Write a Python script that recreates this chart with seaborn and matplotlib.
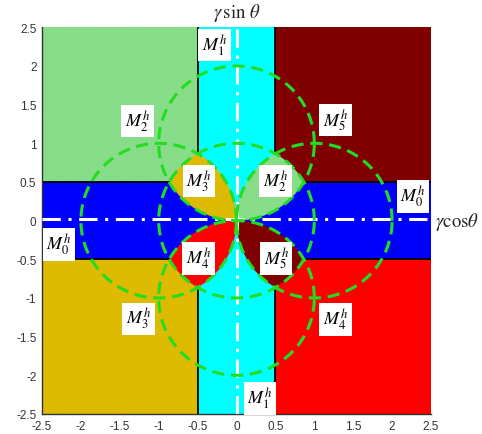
import numpy as np
import matplotlib
matplotlib.use("Agg")
import matplotlib.pyplot as plt
from matplotlib.colors import ListedColormap
import seaborn as sns

# ---------------- data ----------------
region_names = ["M0", "M1", "M2", "M3", "M4", "M5"]
region_colors = ["#0000ff", "#00ffff", "#88dd88", "#ddbb00", "#ff0000", "#800000"]

band_half = 0.5            # half-width of the M0 / M1 bands
axis_lim = 2.5
circle_cx = [0.0, 0.0, 0.0, 1.0, -1.0]
circle_cy = [0.0, 1.0, -1.0, 0.0, 0.0]
circle_r = [1.0, 1.0, 1.0, 1.0, 1.0]

label_idx = [1, 2, 5, 0, 3, 2, 4, 5, 0, 3, 4, 1]
label_x = [-0.28, -1.27, 1.27, 2.27, -0.48, 0.50, -0.49, 0.51, -2.28, -1.26, 1.27, 0.30]
label_y = [2.27, 1.29, 1.30, 0.31, 0.51, 0.51, -0.49, -0.49, -0.31, -1.27, -1.28, -2.30]

ticks = [-2.5, -2, -1.5, -1, -0.5, 0, 0.5, 1, 1.5, 2, 2.5]
tick_labels = ["-2.5", "-2", "-1.5", "-1", "-0.5", "0", "0.5", "1", "1.5", "2", "2.5"]

# ---------------- style ----------------
sns.set_theme(style="white")
plt.rcParams["font.family"] = ["Liberation Sans", "DejaVu Sans"]
plt.rcParams["mathtext.fontset"] = "stix"

fig = plt.figure(figsize=(4.82, 4.35), dpi=100)
ax = fig.add_axes([42 / 482, 1 - 415 / 435, (431 - 42) / 482, (415 - 28.3) / 435])

# ---------------- region map ----------------
n = 1600
g = np.linspace(-axis_lim, axis_lim, n)
X, Y = np.meshgrid(g, g)
h = band_half
outer = np.where(np.abs(Y) <= h, 0,
                 np.where(np.abs(X) <= h, 1,
                          np.select([(X < 0) & (Y > 0), (X > 0) & (Y > 0), (X < 0) & (Y < 0)],
                                    [2, 5, 3], 4)))

def inside(i):
    return (X - circle_cx[i]) ** 2 + (Y - circle_cy[i]) ** 2 < circle_r[i] ** 2

inU, inT, inB, inR, inL = (inside(i) for i in range(5))
inner = np.select([inT & inL, inT & inR, inB & inL, inB & inR, inT | inB, inL | inR],
                  [3, 2, 4, 5, 1, 0], outer)
M = np.where(inU, inner, outer)

ax.imshow(M, origin="lower", extent=[-axis_lim, axis_lim, -axis_lim, axis_lim],
          cmap=ListedColormap(region_colors), vmin=-0.5, vmax=5.5,
          interpolation="antialiased", aspect="auto", zorder=0)

# black band borders (outside the unit circle)
k = np.sqrt(circle_r[0] ** 2 - h ** 2)
for s in (-1, 1):
    ax.plot([-axis_lim, -k], [s * h, s * h], color="black", lw=1.3, zorder=2)
    ax.plot([k, axis_lim], [s * h, s * h], color="black", lw=1.3, zorder=2)
    ax.plot([s * h, s * h], [k, axis_lim], color="black", lw=1.3, zorder=2)
    ax.plot([s * h, s * h], [-axis_lim, -k], color="black", lw=1.3, zorder=2)

# white dash-dot axes
ax.plot([-axis_lim, axis_lim], [0.02, 0.02], color="white", lw=2.2,
        linestyle=(0, (6, 2.5, 1, 2.5)), zorder=3)
ax.plot([0, 0], [-axis_lim, axis_lim], color="white", lw=2.2,
        linestyle=(0, (6, 2.5, 1, 2.5)), zorder=3)

# green dashed circles
t = np.linspace(0, 2 * np.pi, 600)
for cx, cy, r in zip(circle_cx, circle_cy, circle_r):
    sns.lineplot(x=cx + r * np.cos(t), y=cy + r * np.sin(t), sort=False, estimator=None,
                 ax=ax, color="#22dd22", lw=2.2, linestyle=(0, (4, 2.2)), zorder=4)

# labels
for i, x, y in zip(label_idx, label_x, label_y):
    ax.text(x, y, r"$M_{%d}^{h}$" % i, ha="center", va="center", fontsize=13,
            color="black", zorder=6,
            bbox=dict(facecolor="white", edgecolor="none", boxstyle="square,pad=0.2"))

ax.text(0, axis_lim + 0.2, r"$\gamma\,\sin\,\theta$", ha="center", va="center",
        fontsize=13.5, clip_on=False)
ax.text(axis_lim + 0.05, 0.0, r"$\gamma\mathrm{cos}\theta$", ha="left", va="center",
        fontsize=13.5, clip_on=False)

ax.set_xlim(-axis_lim, axis_lim)
ax.set_ylim(-axis_lim, axis_lim)
ax.set_xticks(ticks)
ax.set_xticklabels(tick_labels)
ax.set_yticks(ticks)
ax.set_yticklabels(tick_labels)
ax.tick_params(length=0, pad=4, labelsize=8.5, labelcolor="#333333")
ax.set_xlabel("")
ax.set_ylabel("")
for side in ("top", "right"):
    ax.spines[side].set_visible(False)
for side in ("left", "bottom"):
    ax.spines[side].set_color("#333333")
    ax.spines[side].set_linewidth(1.0)

fig.savefig("out.png", dpi=100)
